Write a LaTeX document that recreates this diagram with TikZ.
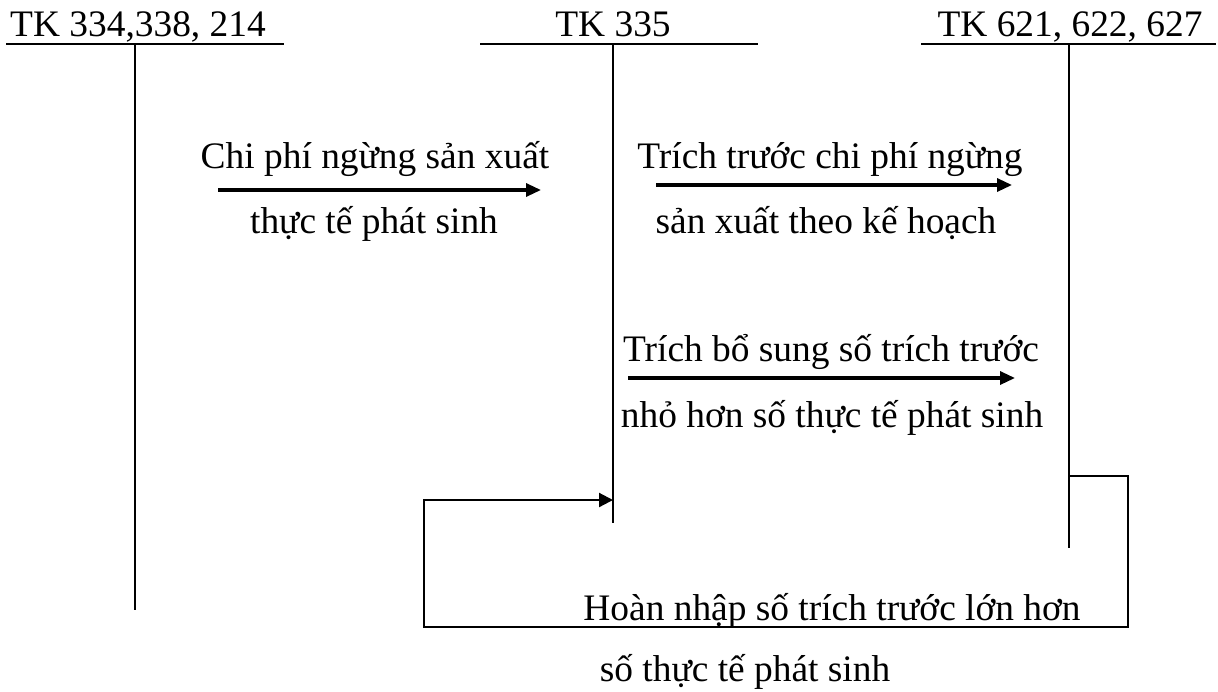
\documentclass[tikz,border=0pt]{standalone}
\usepackage{fontspec}
\setmainfont{Liberation Serif}
\usetikzlibrary{arrows.meta}
\begin{document}
\begin{tikzpicture}[x=0.5pt,y=-0.5pt,
  lbl/.style={anchor=base,inner sep=0pt,font=\fontsize{18.7}{22}\selectfont},
  acct/.style={line width=0.8pt},
  hdr/.style={line width=1pt},
  flow/.style={line width=1.6pt,-{Triangle[length=7.5pt,width=6.5pt]}},
  loopline/.style={line width=1.1pt,-{Triangle[length=7pt,width=7pt]}}]
\useasboundingbox (0,0) rectangle (1218,691);
% account headers
\node[lbl] (h1) at (138,36) {TK 334,338, 214};
\node[lbl] (h2) at (613,36) {TK 335};
\node[lbl] (h3) at (1070,36) {TK 621, 622, 627};
\coordinate (l1a) at (6,44);   \coordinate (l1b) at (284,44);
\coordinate (l2a) at (480,44); \coordinate (l2b) at (758,44);
\coordinate (l3a) at (921,44); \coordinate (l3b) at (1216,44);
\draw[hdr] (l1a) -- (l1b);
\draw[hdr] (l2a) -- (l2b);
\draw[hdr] (l3a) -- (l3b);
% account stems
\coordinate (v1t) at (135,44);  \coordinate (v1b) at (135,610);
\coordinate (v2t) at (613,44);  \coordinate (v2b) at (613,523);
\coordinate (v3t) at (1069,44); \coordinate (v3b) at (1069,548);
\draw[acct] (v1t) -- (v1b);
\draw[acct] (v2t) -- (v2b);
\draw[acct] (v3t) -- (v3b);
% flow 1
\node[lbl] (t1a) at (375,168) {Chi phí ngừng sản xuất};
\node[lbl] (t1b) at (374,233) {thực tế phát sinh};
\coordinate (a1s) at (218,190); \coordinate (a1e) at (541,190);
\draw[flow] (a1s) -- (a1e);
% flow 2
\node[lbl] (t2a) at (830,168) {Trích trước chi phí ngừng};
\node[lbl] (t2b) at (826,233) {sản xuất theo kế hoạch};
\coordinate (a2s) at (656,185); \coordinate (a2e) at (1012,185);
\draw[flow] (a2s) -- (a2e);
% flow 3
\node[lbl] (t3a) at (831,361) {Trích bổ sung số trích trước};
\node[lbl] (t3b) at (832,427) {nhỏ hơn số thực tế phát sinh};
\coordinate (a3s) at (628,378); \coordinate (a3e) at (1015,378);
\draw[flow] (a3s) -- (a3e);
% flow 4 (reversal loop)
\coordinate (p1) at (1069,476);
\coordinate (p2) at (1128,476);
\coordinate (p3) at (1128,627);
\coordinate (p4) at (424,627);
\coordinate (p5) at (424,500);
\coordinate (p6) at (613,500);
\draw[loopline] (p1) -- (p2) -- (p3) -- (p4) -- (p5) -- (p6);
\node[lbl] (t4a) at (832,620) {Hoàn nhập số trích trước lớn hơn};
\node[lbl] (t4b) at (745,681) {số thực tế phát sinh};
\end{tikzpicture}
\end{document}
